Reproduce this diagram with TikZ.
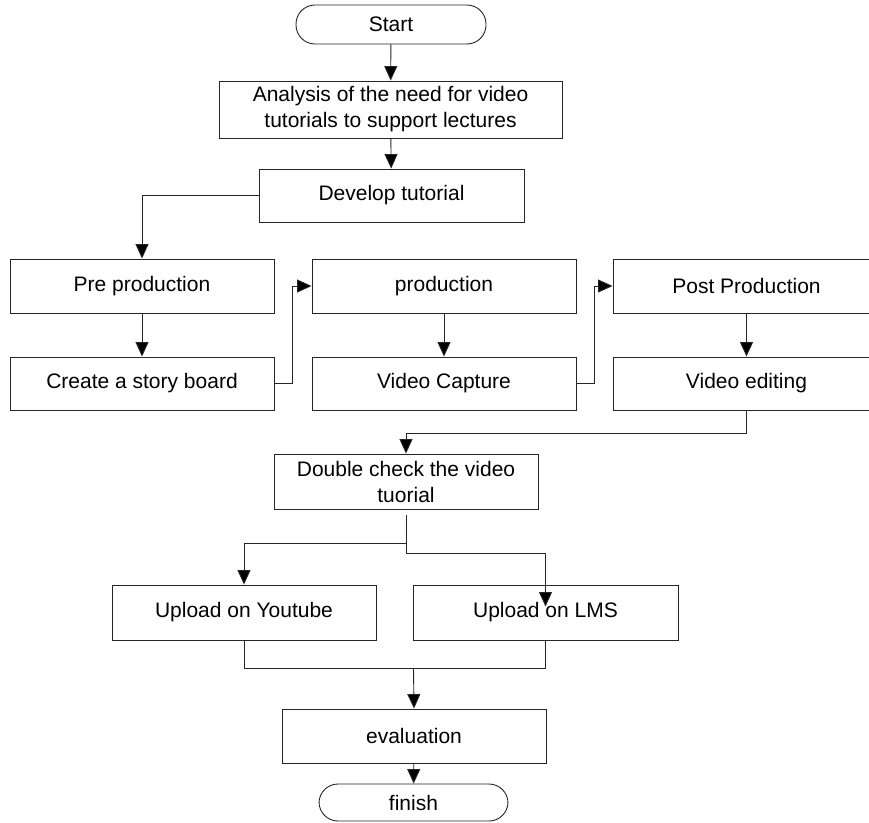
\documentclass[tikz,border=0pt]{standalone}
\usepackage{fontspec}
\setmainfont{Liberation Sans}
\usetikzlibrary{arrows.meta,calc}
\begin{document}
\begin{tikzpicture}[x=1pt,y=-1pt,
  box/.style={draw=black!85,line width=0.9pt,rectangle,inner sep=0pt,align=center,
    font=\fontsize{21}{26}\selectfont},
  pill/.style={box,rounded corners=19pt},
  conn/.style={draw=black!85,line width=0.9pt},
  arr/.style={conn,-{Triangle[length=14.5pt,width=13pt,fill=black]}}]
\useasboundingbox (0,0) rectangle (869,822);
\clip (0,0) rectangle (869,822);
\fill[white] (0,0) rectangle (869,822);
\node[pill,minimum width=190pt,minimum height=39pt] (start) at (391,24.5) {Start};
\node[box,minimum width=343pt,minimum height=57pt] (analysis) at (390.5,109.5) {Analysis of the need for video\\tutorials to support lectures};
\node[box,minimum width=265pt,minimum height=53pt] (develop) at (391.5,195.5) {Develop tutorial};
\node[box,minimum width=264pt,minimum height=54pt] (pre) at (142,286) {Pre production};
\node[box,minimum width=264pt,minimum height=53pt] (story) at (142,383.5) {Create a story board};
\node[box,minimum width=264pt,minimum height=54pt] (prod) at (444,286) {production};
\node[box,minimum width=264pt,minimum height=53pt] (capture) at (444,383.5) {Video Capture};
\node[box,minimum width=267pt,minimum height=54pt] (post) at (746.5,286) {Post Production};
\node[box,minimum width=267pt,minimum height=53pt] (edit) at (746.5,383.5) {Video editing};
\node[box,minimum width=264pt,minimum height=55pt] (check) at (406,481.5) {Double check the video\\tuorial};
\node[box,minimum width=264pt,minimum height=55pt] (yt) at (244,612.5) {Upload on Youtube};
\node[box,minimum width=265pt,minimum height=55pt] (lms) at (545.5,612.5) {Upload on LMS};
\node[box,minimum width=264pt,minimum height=54pt] (eval) at (414,736) {evaluation};
\node[pill,minimum width=189pt,minimum height=37pt] (finish) at (413.5,802.5) {finish};
\draw[arr] (start) -- (analysis);
\draw[arr] (analysis) -- (develop);
\draw[arr] (develop.west) -| (pre.north);
\draw[arr] (pre) -- (story);
\draw[arr] (story.east) -- ++(18,0) |- (prod.west);
\draw[arr] (prod) -- (capture);
\draw[arr] (capture.east) -- ++(18,0) |- (post.west);
\draw[arr] (post) -- (edit);
\draw[arr] (edit.south) -- ++(0,23) -| (check.north);
\coordinate (s0) at ($(check.south)+(0,6)$);
\coordinate (lmstip) at ($(lms.north)+(0,22)$);
\draw[arr] (s0) -- ++(0,28) -| (yt.north);
\draw[arr] (s0) -- ++(0,38) -| (lmstip);
\coordinate (j) at (413.5,668);
\draw[conn] (yt.south) -- ++(0,28) -| (lms.south);
\draw[arr] (j) -- (eval.north);
\draw[arr] (eval) -- (finish);
\end{tikzpicture}
\end{document}
